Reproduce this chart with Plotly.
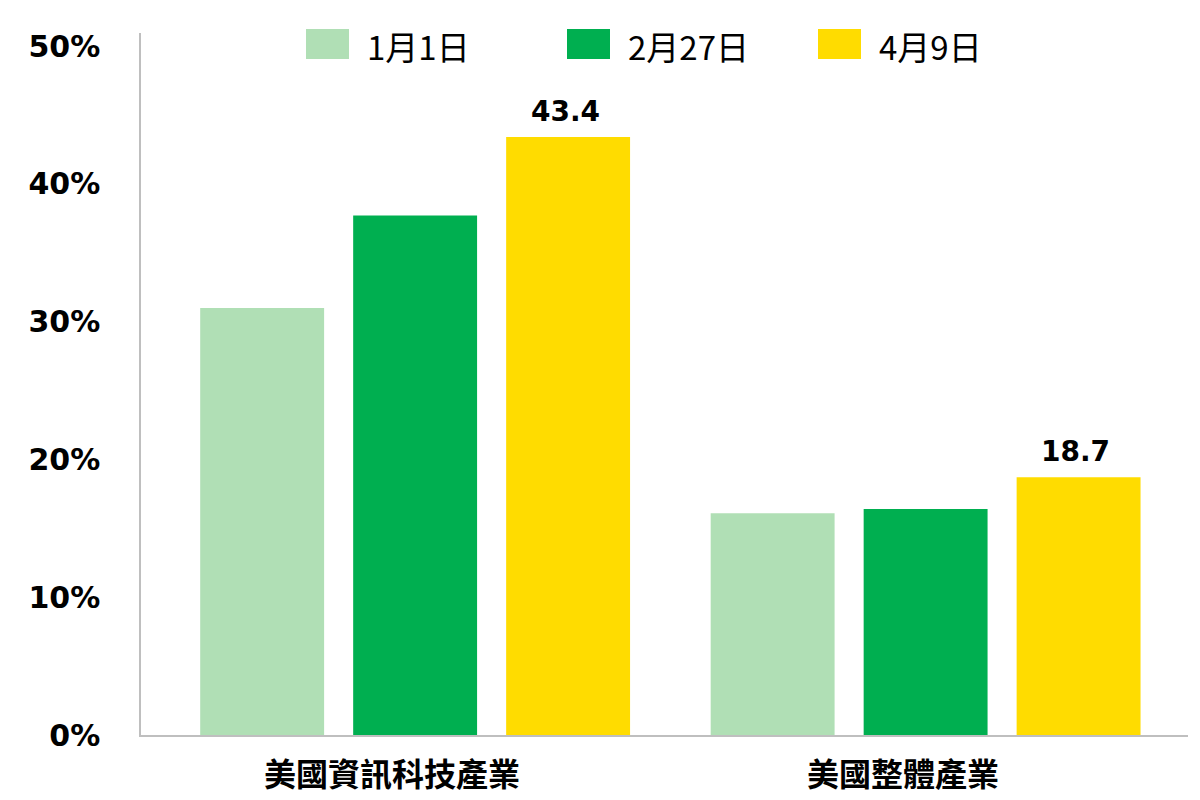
import plotly.graph_objects as go

categories = ["美國資訊科技產業", "美國整體產業"]
series_names = ["1月1日", "2月27日", "4月9日"]
values_jan1 = [31.0, 16.1]
values_feb27 = [37.7, 16.4]
values_apr9 = [43.4, 18.7]
label_apr9 = ["43.4", "18.7"]
y_tick_vals = [0, 10, 20, 30, 40, 50]
y_tick_text = ["0%", "10%", "20%", "30%", "40%", "50%"]

colors = ["#B0DFB5", "#00AF50", "#FFDC00"]

W, H = 1200, 800
ML, MR, MT, MB = 141, 12, 33, 65
PW = W - ML - MR
PH = H - MT - MB

X_RANGE = [-0.537, 1.514]
BARGAP = 0.101
BARGROUPGAP = 0.19

fig = go.Figure()
all_vals = [values_jan1, values_feb27, values_apr9]
for i, (name, vals) in enumerate(zip(series_names, all_vals)):
    fig.add_trace(go.Bar(x=categories, y=vals, name=name, marker_color=colors[i],
                         marker_line_width=0, showlegend=False))

def px_x(p):
    return (p - ML) / PW

def px_y(p):
    return (H - MB - p) / PH

# pixel width of one bar slot within a group (for placing value labels over the 3rd bar)
unit_px = PW / (X_RANGE[1] - X_RANGE[0])
slot_px = unit_px * (1 - BARGAP) / 3

# manual legend (large swatches)
legend_x = [306, 567, 818]
shapes = []
annotations = []
for i, name in enumerate(series_names):
    x0 = legend_x[i]
    shapes.append(dict(type="rect", xref="paper", yref="paper",
                       x0=px_x(x0), x1=px_x(x0 + 43), y0=px_y(59), y1=px_y(29),
                       fillcolor=colors[i], line_width=0, layer="above"))
    annotations.append(dict(xref="paper", yref="paper", x=px_x(x0 + 59), y=px_y(46),
                            xanchor="left", yanchor="middle", text=name, showarrow=False,
                            font=dict(family="Noto Sans CJK TC", size=33, color="#000000")))

# value labels over the 4月9日 bars
for c, v, t in zip(categories, values_apr9, label_apr9):
    annotations.append(dict(xref="x", yref="y", x=c, y=v, xshift=slot_px - 3, yshift=7,
                            xanchor="center", yanchor="bottom", text=t, showarrow=False,
                            font=dict(family="DejaVu Sans", size=28, color="#000000",
                                      weight="bold")))

# category labels
for c in categories:
    annotations.append(dict(xref="x", yref="paper", x=c, y=px_y(772), xshift=-23,
                            xanchor="center", yanchor="middle", text=c, showarrow=False,
                            font=dict(family="Noto Sans CJK TC", size=32, color="#000000",
                                      weight="bold")))

fig.update_layout(
    width=W, height=H,
    margin=dict(l=ML, r=MR, t=MT, b=MB),
    plot_bgcolor="white", paper_bgcolor="white",
    barmode="group", bargap=BARGAP, bargroupgap=BARGROUPGAP,
    shapes=shapes, annotations=annotations,
    xaxis=dict(range=X_RANGE, showticklabels=False, showline=True,
               linecolor="#BFBFBF", linewidth=1.5, showgrid=False, zeroline=False,
               ticks=""),
    yaxis=dict(range=[0, 50.95], tickvals=y_tick_vals, ticktext=y_tick_text,
               showline=True, linecolor="#BFBFBF", linewidth=1.5, showgrid=False,
               zeroline=False, ticks="", ticklabelstandoff=33,
               tickfont=dict(family="DejaVu Sans", size=30, color="#000000", weight="bold")),
)

fig.write_html("out.html",
               config={"displayModeBar": False},
               post_script="document.body.style.margin='0';document.body.style.padding='0';")
